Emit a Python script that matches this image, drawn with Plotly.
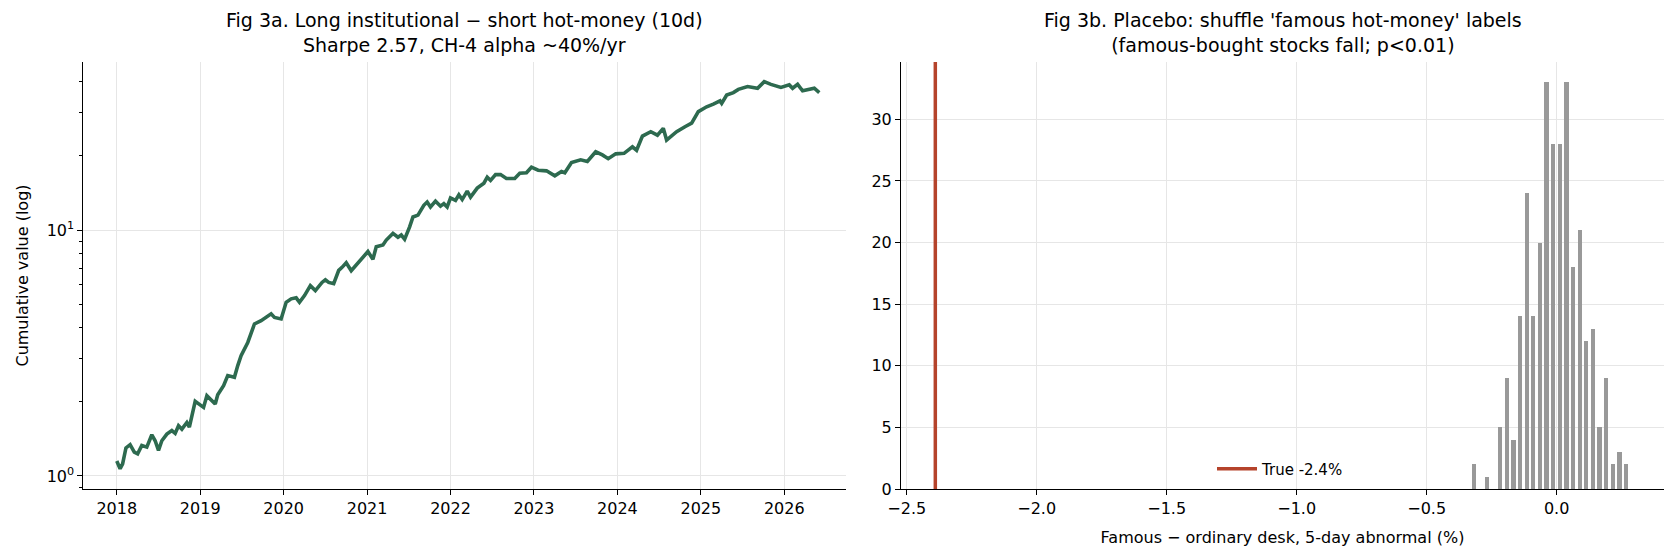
import math
import plotly.graph_objects as go

# ---------------- data ----------------
years = [2018.00, 2018.04, 2018.07, 2018.11, 2018.16, 2018.21, 2018.25, 2018.30, 2018.36, 2018.42,
         2018.46, 2018.50, 2018.54, 2018.60, 2018.66, 2018.70, 2018.74, 2018.78, 2018.84, 2018.87,
         2018.94, 2018.98, 2019.04, 2019.08, 2019.12, 2019.18, 2019.21, 2019.28, 2019.33, 2019.41,
         2019.45, 2019.49, 2019.57, 2019.61, 2019.65, 2019.73, 2019.79, 2019.85, 2019.89, 2019.97,
         2020.03, 2020.09, 2020.15, 2020.19, 2020.25, 2020.32, 2020.38, 2020.46, 2020.50, 2020.54,
         2020.60, 2020.66, 2020.70, 2020.75, 2020.81, 2020.87, 2020.95, 2021.01, 2021.07, 2021.11,
         2021.19, 2021.23, 2021.31, 2021.37, 2021.41, 2021.45, 2021.51, 2021.55, 2021.61, 2021.68,
         2021.72, 2021.76, 2021.82, 2021.88, 2021.92, 2021.96, 2022.00, 2022.06, 2022.10, 2022.14,
         2022.20, 2022.24, 2022.32, 2022.40, 2022.44, 2022.48, 2022.54, 2022.60, 2022.67, 2022.77,
         2022.83, 2022.91, 2022.97, 2023.05, 2023.15, 2023.25, 2023.33, 2023.37, 2023.45, 2023.53,
         2023.56, 2023.64, 2023.74, 2023.82, 2023.89, 2023.98, 2024.08, 2024.18, 2024.23, 2024.30,
         2024.40, 2024.48, 2024.55, 2024.59, 2024.71, 2024.81, 2024.89, 2024.97, 2025.07, 2025.15,
         2025.23, 2025.25, 2025.31, 2025.39, 2025.45, 2025.56, 2025.68, 2025.76, 2025.84, 2025.96,
         2026.06, 2026.10, 2026.16, 2026.22, 2026.30, 2026.36, 2026.42]
cum_value = [1.15, 1.07, 1.12, 1.30, 1.34, 1.25, 1.23, 1.33, 1.31, 1.47,
             1.39, 1.27, 1.39, 1.48, 1.53, 1.49, 1.60, 1.55, 1.65, 1.58,
             2.01, 1.96, 1.90, 2.12, 2.06, 1.96, 2.14, 2.33, 2.56, 2.52,
             2.81, 3.08, 3.49, 3.78, 4.15, 4.28, 4.41, 4.56, 4.41, 4.35,
             5.08, 5.25, 5.30, 5.08, 5.41, 5.94, 5.67, 6.12, 6.27, 6.12,
             6.05, 6.85, 7.05, 7.36, 6.83, 7.21, 7.67, 8.17, 7.60, 8.55,
             8.69, 9.10, 9.69, 9.34, 9.54, 9.17, 10.3, 11.3, 11.5, 12.6,
             13.0, 12.4, 13.1, 12.5, 12.8, 12.4, 13.5, 13.2, 13.9, 13.3,
             14.4, 13.6, 14.8, 15.5, 16.4, 15.9, 16.8, 16.8, 16.2, 16.2,
             17.0, 17.1, 18.0, 17.5, 17.4, 16.6, 17.3, 17.1, 18.8, 19.1,
             19.3, 19.0, 20.8, 20.2, 19.5, 20.4, 20.5, 21.8, 21.1, 24.1,
             25.1, 24.3, 25.9, 23.2, 25.1, 26.3, 27.2, 30.3, 31.7, 32.5,
             33.5, 32.7, 35.4, 36.2, 37.3, 38.3, 37.7, 40.1, 39.1, 38.0,
             38.9, 37.7, 39.1, 36.8, 37.3, 37.7, 36.2]

year_ticks = [2018, 2019, 2020, 2021, 2022, 2023, 2024, 2025, 2026]

bin_centers = [-0.319, -0.293, -0.268, -0.242, -0.217, -0.191, -0.166, -0.141, -0.115, -0.090,
               -0.064, -0.039, -0.013, 0.012, 0.038, 0.063, 0.089, 0.114, 0.140, 0.165,
               0.191, 0.216, 0.242, 0.267]
placebo_counts = [2, 0, 1, 0, 5, 9, 4, 14, 24, 14,
                  20, 33, 28, 28, 33, 18, 21, 12, 13, 5,
                  9, 2, 3, 2]
bin_width = 0.0255
true_effect = -2.39
true_label = "True -2.4%"
hist_xticks = [-2.5, -2.0, -1.5, -1.0, -0.5, 0.0]
hist_xtick_text = ["\u22122.5", "\u22122.0", "\u22121.5", "\u22121.0", "\u22120.5", "0.0"]
hist_yticks = [0, 5, 10, 15, 20, 25, 30]

# ---------------- styles ----------------
W, H = 1677, 558
FONT = "DejaVu Sans"
GREEN = "#2d6a4f"
RED = "#b5432b"
GREY = "#999999"
GRID = "#e6e6e6"
TICK_SIZE = 16
TITLE_SIZE = 19

L1, R1 = 83.4 / W, 846 / W
L2, R2 = 901 / W, 1664 / W
YB, YT = 1 - 489 / H, 1 - 62 / H

fig = go.Figure()

fig.add_trace(go.Scatter(
    x=years, y=cum_value, mode="lines",
    line=dict(color=GREEN, width=3.6),
    xaxis="x", yaxis="y", showlegend=False, hoverinfo="x+y"))

fig.add_trace(go.Bar(
    x=bin_centers, y=placebo_counts, width=[bin_width * 0.66] * len(bin_centers),
    marker=dict(color=GREY, line=dict(width=0)),
    xaxis="x2", yaxis="y2", showlegend=False))

y2_top = max(placebo_counts) * 1.05
fig.add_trace(go.Scatter(
    x=[true_effect, true_effect], y=[0, y2_top], mode="lines",
    line=dict(color=RED, width=3.5),
    xaxis="x2", yaxis="y2", name=true_label, showlegend=True))

axis_common = dict(
    showline=True, linecolor="black", linewidth=1.1, mirror=False,
    ticks="outside", ticklen=5, tickwidth=1.1, tickcolor="black",
    showgrid=True, gridcolor=GRID, gridwidth=1, zeroline=False,
    automargin=False,
    tickfont=dict(family=FONT, size=TICK_SIZE, color="black"),
)

minor_vals = [0.9, 2, 3, 4, 5, 6, 7, 8, 9, 20, 30, 40]

fig.update_layout(
    template="none",
    width=W, height=H,
    margin=dict(l=0, r=0, t=0, b=0, autoexpand=False),
    paper_bgcolor="white", plot_bgcolor="white",
    font=dict(family=FONT, size=TICK_SIZE, color="black"),
    bargap=0,
    xaxis=dict(domain=[L1, R1], anchor="y", range=[2017.60, 2026.74],
               tickmode="array", tickvals=year_ticks,
               ticktext=[str(t) for t in year_ticks], **axis_common),
    yaxis=dict(domain=[YB, YT], anchor="x", type="log",
               range=[math.log10(0.885), math.log10(48.2)],
               tickmode="array", tickvals=[1, 10],
               ticktext=["10<sup>0</sup>", "10<sup>1</sup>"],
               minor=dict(tickmode="array", tickvals=minor_vals, ticks="outside",
                          ticklen=3, tickwidth=0.9, tickcolor="black", showgrid=False),
               title=dict(text="Cumulative value (log)", standoff=14,
                          font=dict(family=FONT, size=TICK_SIZE)),
               **axis_common),
    xaxis2=dict(domain=[L2, R2], anchor="y2", range=[-2.522, 0.413],
                tickmode="array", tickvals=hist_xticks, ticktext=hist_xtick_text,
                title=dict(text="Famous \u2212 ordinary desk, 5-day abnormal (%)", standoff=14,
                           font=dict(family=FONT, size=TICK_SIZE)),
                **axis_common),
    yaxis2=dict(domain=[YB, YT], anchor="x2", range=[0, y2_top],
                tickmode="array", tickvals=hist_yticks,
                ticktext=[str(t) for t in hist_yticks], **axis_common),
    legend=dict(x=1212 / W, y=1 - 469 / H, xanchor="left", yanchor="middle",
                itemwidth=40,
                bgcolor="rgba(0,0,0,0)", font=dict(family=FONT, size=15, color="black")),
    annotations=[
        dict(text="Fig 3a. Long institutional \u2212 short hot-money (10d)<br>Sharpe 2.57, CH-4 alpha ~40%/yr",
             x=(L1 + R1) / 2, y=1 - 33 / H, xref="paper", yref="paper",
             xanchor="center", yanchor="middle", showarrow=False,
             font=dict(family=FONT, size=TITLE_SIZE, color="black")),
        dict(text="Fig 3b. Placebo: shuffle 'famous hot-money' labels<br>(famous-bought stocks fall; p<0.01)",
             x=(L2 + R2) / 2, y=1 - 33 / H, xref="paper", yref="paper",
             xanchor="center", yanchor="middle", showarrow=False,
             font=dict(family=FONT, size=TITLE_SIZE, color="black")),
    ],
)

fig.write_html("out.html")
